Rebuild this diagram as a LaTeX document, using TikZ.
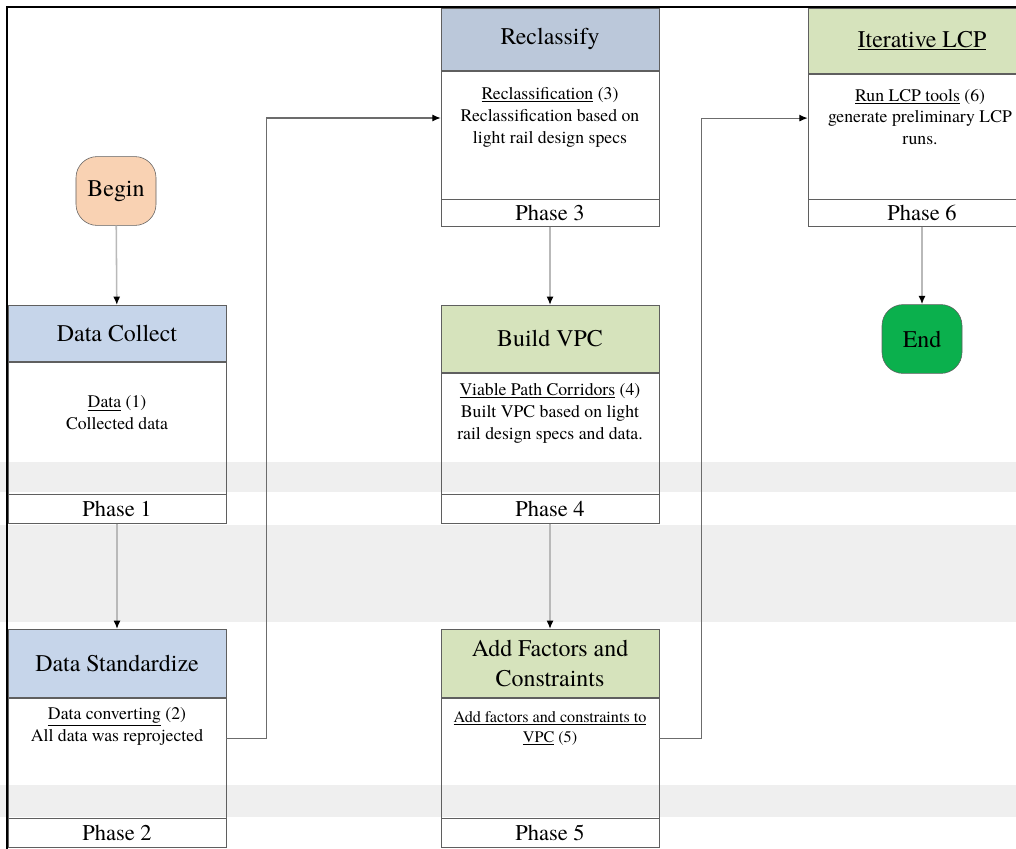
\documentclass[tikz,border=0pt]{standalone}
\usepackage{fontspec}
\setmainfont{TeX Gyre Termes}
\usetikzlibrary{arrows.meta, positioning}

\definecolor{hdrblue}{HTML}{C6D5EA}
\definecolor{hdrgreen}{HTML}{D6E3BC}
\definecolor{beginfill}{HTML}{F9D2B3}
\definecolor{endfill}{HTML}{0BB04D}
\definecolor{bandgray}{HTML}{EFEFEF}
\definecolor{boxline}{HTML}{5F5F5F}

\tikzset{
  hdr/.style={draw=boxline, align=center, inner sep=1pt, anchor=north, font=\fontsize{17}{21}\selectfont},
  body/.style={draw=boxline},
  phase/.style={draw=boxline, fill=white, inner sep=0pt, font=\fontsize{16}{18}\selectfont},
  note/.style={align=center, inner sep=0pt, font=\fontsize{12.6}{15.6}\selectfont},
  term/.style={draw=boxline, rounded corners=15pt, minimum width=2cm, minimum height=1.72cm, font=\fontsize{17}{20}\selectfont},
  flow/.style={draw=gray!55, line width=1.1pt, -{Latex[black,length=6pt,width=5pt]}},
  link/.style={draw=gray!85!black, line width=0.8pt, -{Latex[black,length=6pt,width=5pt]}},
}

\begin{document}
\begin{tikzpicture}[x=0.025cm, y=-0.025cm]
\useasboundingbox (0,0) rectangle (1016,848);
% scan bands
\fill[bandgray] (0,462) rectangle (1016,492);
\fill[bandgray] (0,525) rectangle (1016,622);
\fill[bandgray] (0,785) rectangle (1016,817);
\draw[black, line width=1.2pt] (7,880) |- (1040,7);

\begin{scope}
    % column 1
    \node[term, fill=beginfill] (begin) at (116,191) {Begin};

    \node[hdr, fill=hdrblue, minimum width=5.45cm, minimum height=1.4cm] (dchdr) at (117,305) {Data Collect};
    \node[body, below=0pt of dchdr, minimum width=5.45cm, minimum height=3.3cm] (dcbody) {};
    \node[phase, below=0pt of dcbody, minimum width=5.45cm, minimum height=0.725cm] (dcph) {Phase 1};
    \node[note] (dcnote) at (117,413) {\underline{Data} (1)\\Collected data};

    \node[hdr, fill=hdrblue, minimum width=5.45cm, minimum height=1.7cm] (dshdr) at (117,629) {Data Standardize};
    \node[body, below=0pt of dshdr, minimum width=5.45cm, minimum height=3.0cm] (dsbody) {};
    \node[phase, below=0pt of dsbody, minimum width=5.45cm, minimum height=0.725cm] (dsph) {Phase 2};
    \node[note] (dsnote) at (117,726) {\underline{Data converting} (2)\\All data was reprojected};

    % column 2
    \node[hdr, fill=hdrblue!85!gray, minimum width=5.45cm, minimum height=1.55cm] (rchdr) at (550,8) {Reclassify};
    \node[body, below=0pt of rchdr, minimum width=5.45cm, minimum height=3.2cm] (rcbody) {};
    \node[phase, below=0pt of rcbody, minimum width=5.45cm, minimum height=0.675cm] (rcph) {Phase 3};
    \node[note] (rcnote) at (550,117) {\underline{Reclassification} (3)\\Reclassification based on\\light rail design specs};

    \node[hdr, fill=hdrgreen, minimum width=5.45cm, minimum height=1.675cm] (vpchdr) at (550,305) {Build VPC};
    \node[body, below=0pt of vpchdr, minimum width=5.45cm, minimum height=3.025cm] (vpcbody) {};
    \node[phase, below=0pt of vpcbody, minimum width=5.45cm, minimum height=0.725cm] (vpcph) {Phase 4};
    \node[note] (vpcnote) at (550,413) {\underline{Viable Path Corridors} (4)\\Built VPC based on light\\rail design specs and data.};

    \node[hdr, fill=hdrgreen, minimum width=5.45cm, minimum height=1.7cm] (afhdr) at (550,629) {Add Factors and\\Constraints};
    \node[body, below=0pt of afhdr, minimum width=5.45cm, minimum height=3.0cm] (afbody) {};
    \node[phase, below=0pt of afbody, minimum width=5.45cm, minimum height=0.725cm] (afph) {Phase 5};
    \node[note, font=\fontsize{11.5}{14.2}\selectfont] (afnote) at (550,728) {\underline{Add factors and constraints to}\\\underline{VPC} (5)};

    % column 3
    \node[hdr, fill=hdrgreen, minimum width=5.7cm, minimum height=1.625cm] (lcphdr) at (922,8) {\underline{Iterative LCP}};
    \node[body, below=0pt of lcphdr, minimum width=5.7cm, minimum height=3.125cm] (lcpbody) {};
    \node[phase, below=0pt of lcpbody, minimum width=5.7cm, minimum height=0.675cm] (lcpph) {Phase 6};
    \node[note] (lcpnote) at (920,117) {\underline{Run LCP tools} (6)\\generate preliminary LCP\\runs.};

    \node[term, fill=endfill] (endnode) at (922,339) {End};

    \path [flow] (begin) edge (dchdr);
    \path [flow] (dcph) edge (dshdr);
    \path [flow] (rcph) edge (vpchdr);
    \path [flow] (vpcph) edge (afhdr);
    \path [flow] (lcpph) edge (endnode);

    \draw [link] ([yshift=14pt]dsbody.east) -- ++(40,0) |- ([yshift=12pt]rcbody.west);
    \draw [link] ([yshift=14pt]afbody.east) -- ++(42,0) |- ([yshift=13pt]lcpbody.west);
\end{scope}
\end{tikzpicture}
\end{document}
